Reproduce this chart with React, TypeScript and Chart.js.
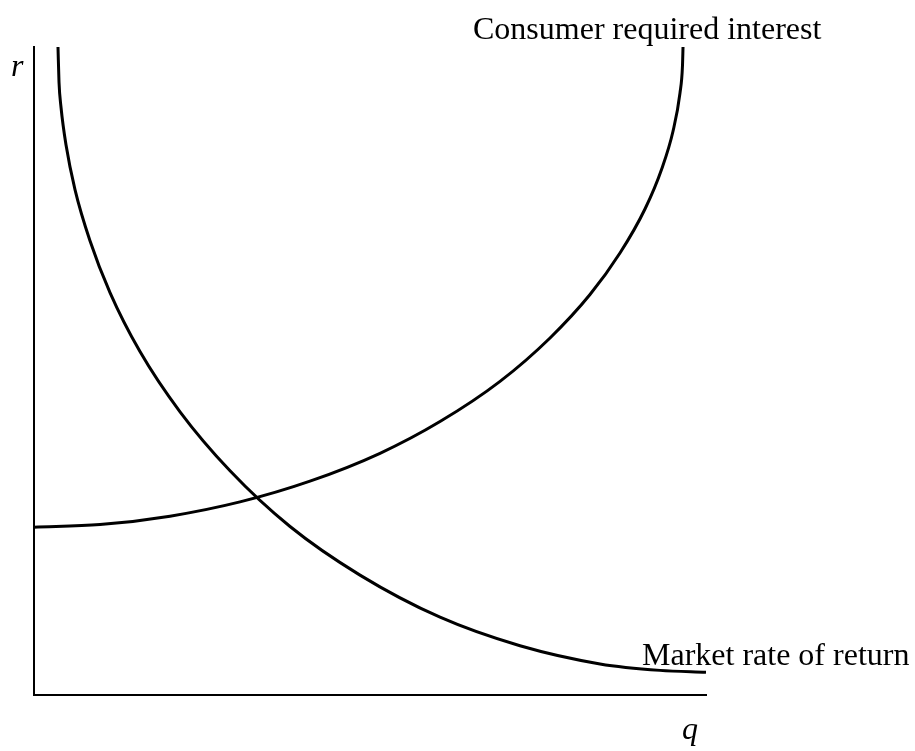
import React, { useEffect, useRef } from "react";
import { Chart, registerables } from "chart.js";

Chart.register(...registerables);

// Consumer required interest (q, r) points
const consumerQ = [0, 9.82, 20.24, 30.65, 41.07, 51.49, 60.42, 69.35, 76.79, 82.74, 87.2, 90.92, 93.45, 95.09, 96.13, 96.5, 96.58];
const consumerR = [25.9, 26.3, 27.6, 29.8, 33.0, 37.3, 42.2, 48.4, 55.1, 61.8, 68.2, 75.0, 81.3, 87.0, 92.9, 97.1, 100];

// Market rate of return (q, r) points
const marketQ = [3.57, 3.72, 4.02, 4.76, 6.1, 8.33, 11.31, 15.77, 21.73, 29.17, 38.1, 48.51, 60.42, 72.32, 84.23, 93.15, 100];
const marketR = [100, 94.6, 90.7, 84.9, 78.0, 70.1, 62.1, 53.0, 43.7, 34.6, 26.0, 18.5, 12.0, 7.6, 4.8, 3.8, 3.5];

const labels = {
  consumer: "Consumer required interest",
  market: "Market rate of return",
  yAxis: "r",
  xAxis: "q",
};

const textPlugin = {
  id: "textLabels",
  afterDraw(chart: any) {
    const { ctx, chartArea } = chart;
    ctx.save();
    ctx.fillStyle = "#000";
    ctx.textBaseline = "alphabetic";
    ctx.textAlign = "left";
    ctx.font = '32px "Liberation Serif", "Times New Roman", serif';
    ctx.fillText(labels.consumer, chartArea.left + 439, chartArea.top - 8);
    ctx.fillText(labels.market, chartArea.left + 608, chartArea.bottom - 30);
    ctx.font = 'italic 32px "Liberation Serif", "Times New Roman", serif';
    ctx.fillText(labels.yAxis, chartArea.left - 23, chartArea.top + 29);
    ctx.fillText(labels.xAxis, chartArea.left + 648, chartArea.bottom + 44);
    ctx.restore();
  },
};

export default function App() {
  const ref = useRef<HTMLCanvasElement | null>(null);
  useEffect(() => {
    if (!ref.current) return;
    const chart = new Chart(ref.current, {
      type: "line",
      data: {
        datasets: [
          {
            label: labels.consumer,
            data: consumerQ.map((q, i) => ({ x: q, y: consumerR[i] })),
            borderColor: "#000",
            borderWidth: 3,
            pointRadius: 0,
            cubicInterpolationMode: "monotone",
            fill: false,
          },
          {
            label: labels.market,
            data: marketQ.map((q, i) => ({ x: q, y: marketR[i] })),
            borderColor: "#000",
            borderWidth: 3,
            pointRadius: 0,
            cubicInterpolationMode: "monotone",
            fill: false,
          },
        ],
      },
      options: {
        animation: false,
        responsive: false,
        maintainAspectRatio: false,
        layout: { padding: { left: 34, right: 209, top: 47, bottom: 56 } },
        plugins: {
          legend: { display: false },
          tooltip: { enabled: false },
        },
        scales: {
          x: {
            type: "linear",
            min: 0,
            max: 100,
            grid: { display: false, drawTicks: false },
            ticks: { display: false },
            border: { display: true, color: "#000", width: 2 },
          },
          y: {
            type: "linear",
            min: 0,
            max: 100,
            grid: { display: false, drawTicks: false },
            ticks: { display: false },
            border: { display: true, color: "#000", width: 2 },
          },
        },
      },
      plugins: [textPlugin],
    } as any);
    return () => chart.destroy();
  }, []);
  return (
    <div style={{ position: "absolute", left: 0, top: 0, width: 915, height: 751, background: "#fff" }}>
      <canvas ref={ref} width={915} height={751} />
    </div>
  );
}
